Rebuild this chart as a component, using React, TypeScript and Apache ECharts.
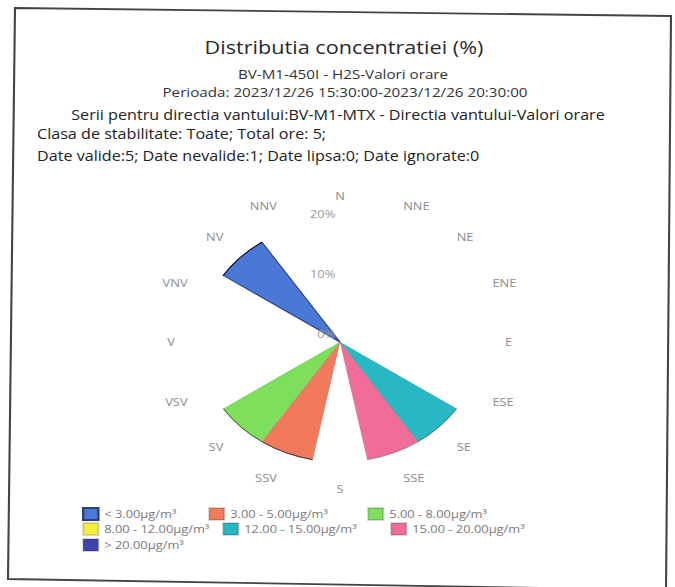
import React, { useEffect, useRef } from "react";
import * as echarts from "echarts";

const directions = ["N", "NNE", "NE", "ENE", "E", "ESE", "SE", "SSE", "S", "SSV", "SV", "VSV", "V", "VNV", "NV", "NNV"];
const classNames = [
  "< 3.00µg/m³",
  "3.00 - 5.00µg/m³",
  "5.00 - 8.00µg/m³",
  "8.00 - 12.00µg/m³",
  "12.00 - 15.00µg/m³",
  "15.00 - 20.00µg/m³",
  "> 20.00µg/m³",
];
const classColors = ["#4a78d6", "#f27a5c", "#7ddf5c", "#f7ee3a", "#27b8c4", "#ef6d96", "#3d45aa"];
// percent per direction (N..NNV) for each concentration class
const lt3 = [0, 0, 0, 0, 0, 0, 0, 0, 0, 0, 0, 0, 0, 0, 20, 0];
const c3to5 = [0, 0, 0, 0, 0, 0, 0, 0, 0, 20, 0, 0, 0, 0, 0, 0];
const c5to8 = [0, 0, 0, 0, 0, 0, 0, 0, 0, 0, 20, 0, 0, 0, 0, 0];
const c8to12 = [0, 0, 0, 0, 0, 0, 0, 0, 0, 0, 0, 0, 0, 0, 0, 0];
const c12to15 = [0, 0, 0, 0, 0, 0, 20, 0, 0, 0, 0, 0, 0, 0, 0, 0];
const c15to20 = [0, 0, 0, 0, 0, 0, 0, 20, 0, 0, 0, 0, 0, 0, 0, 0];
const gt20 = [0, 0, 0, 0, 0, 0, 0, 0, 0, 0, 0, 0, 0, 0, 0, 0];
const radialTicks = [0, 10, 20];

const titleText = "Distributia concentratiei (%)";
const subLines = [
  "BV-M1-450I - H2S-Valori orare",
  "Perioada: 2023/12/26 15:30:00-2023/12/26 20:30:00",
  "Serii pentru directia vantului:BV-M1-MTX - Directia vantului-Valori orare",
];
const infoLines = [
  "Clasa de stabilitate: Toate; Total ore: 5;",
  "Date valide:5; Date nevalide:1; Date lipsa:0; Date ignorate:0",
];

const FONT = "'Open Sans', sans-serif";
const SX = 1.17; // the reference picture is stretched horizontally
const W = 675 / SX;
const H = 587;
const px = (x: number) => x / SX;

export default function App() {
  const ref = useRef<HTMLDivElement>(null);
  useEffect(() => {
    if (!ref.current) return;
    const chart = echarts.init(ref.current, null, { renderer: "svg" });
    const seriesData = [lt3, c3to5, c5to8, c8to12, c12to15, c15to20, gt20];
    const cx = px(340);
    const cy = 342;
    const legendPos = [
      [82, 507], [208, 507], [367, 507],
      [82, 522], [222, 522], [390, 522],
      [82, 538],
    ];
    const txt = (text: string, x: number, y: number, size: number, color: string, align: string) => ({
      type: "text",
      x: px(x),
      y,
      silent: true,
      style: {
        text,
        fontFamily: FONT,
        fontSize: size,
        fontWeight: "normal",
        fill: color,
        textAlign: align,
        textVerticalAlign: "middle",
      },
    });
    const option: any = {
      animation: false,
      backgroundColor: "#ffffff",
      legend: classNames.map((name, i) => ({
        data: [name],
        left: px(legendPos[i][0]),
        top: legendPos[i][1],
        padding: 0,
        itemWidth: 13,
        itemHeight: 12,
        itemGap: 0,
        icon: "rect",
        selectedMode: false,
        textStyle: { fontFamily: FONT, fontSize: 11, color: "#7a7a7a" },
      })),
      polar: [
        { center: [cx, cy], radius: 120 },
        { center: [cx, cy], radius: 120 },
      ],
      angleAxis: [
        {
          polarIndex: 0,
          type: "category",
          data: directions,
          startAngle: 90 + 11.25,
          boundaryGap: true,
          axisLine: { show: false },
          axisTick: { show: false },
          splitLine: { show: false },
          axisLabel: { fontFamily: FONT, fontSize: 11, color: "#8c8c8c", margin: 21 },
        },
        {
          polarIndex: 1,
          type: "value",
          min: 0,
          max: 360,
          startAngle: 90,
          show: false,
        },
      ],
      radiusAxis: [
        { polarIndex: 0, min: 0, max: 20, show: false },
        {
          polarIndex: 1,
          type: "value",
          z: 5,
          min: radialTicks[0],
          max: radialTicks[radialTicks.length - 1],
          interval: radialTicks[1] - radialTicks[0],
          axisLine: { show: false },
          axisTick: { show: false },
          splitLine: { show: false },
          axisLabel: {
            fontFamily: FONT,
            fontSize: 11,
            color: "#9a9a9a",
            margin: 4,
            verticalAlign: "bottom",
            padding: [0, 0, 3, 0],
            formatter: "{value}%",
          },
        },
      ],
      series: seriesData.map((d, i) => ({
        type: "bar",
        name: classNames[i],
        coordinateSystem: "polar",
        polarIndex: 0,
        stack: "rose",
        barCategoryGap: "0%",
        data: d,
        itemStyle: {
          color: classColors[i],
          borderColor: i === 0 ? "#2c3f78" : "rgba(0,0,0,0.15)",
          borderWidth: i === 0 ? 1 : 0.6,
        },
      })),
      graphic: [
        txt(titleText, 344, 47, 18.5, "#2a2a2a", "center"),
        txt(subLines[0], 343, 74, 13, "#333", "center"),
        txt(subLines[1], 345, 92, 13, "#333", "center"),
        txt(subLines[2], 338, 114, 13.8, "#222", "center"),
        txt(infoLines[0], 37, 133, 13.8, "#222", "left"),
        txt(infoLines[1], 37, 155, 13.8, "#222", "left"),
        {
          type: "polygon",
          shape: { points: [[px(15), 8], [px(671), 16], [px(666), 590], [px(8), 579]] },
          style: { fill: "none", stroke: "#444", lineWidth: 1.8 },
          silent: true,
        },
      ],
    };
    chart.setOption(option);
    return () => chart.dispose();
  }, []);
  return (
    <div style={{ position: "fixed", left: 0, top: 0, width: 675, height: H, overflow: "hidden", background: "#fff" }}>
      <div
        ref={ref}
        style={{ width: W, height: H, transform: `scaleX(${SX})`, transformOrigin: "0 0" }}
      />
    </div>
  );
}
